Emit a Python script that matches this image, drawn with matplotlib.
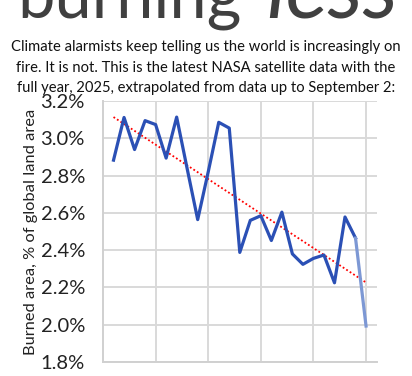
import numpy as np
import matplotlib
matplotlib.use("Agg")
from matplotlib import pyplot as plt
from matplotlib.ticker import FuncFormatter

# burned area, % of global land area (2025 extrapolated)
years = list(range(2001, 2026))
burned = [2.883, 3.112, 2.940, 3.095, 3.074, 2.894, 3.114, 2.837, 2.564, 2.820,
          3.086, 3.055, 2.388, 2.560, 2.585, 2.452, 2.604, 2.380, 2.324, 2.356,
          2.374, 2.225, 2.578, 2.465, 1.993]

title_main = "burning"
title_ital = "less"
subtitle = ["Climate alarmists keep telling us the world is increasingly on",
            "fire. It is not. This is the latest NASA satellite data with the",
            "full year, 2025, extrapolated from data up to September 2:"]
ylab = "Burned area, % of global land area"

plt.rcParams['font.family'] = ['Lato', 'DejaVu Sans']

W, H = 412, 376
fig = plt.figure(figsize=(W / 100, H / 100), dpi=100)
ax = fig.add_axes([0.25, 0.0372, 0.664, 0.694])

x = np.array(years)
y = np.array(burned)

# trend line over all years
k, b = np.polyfit(x, y, 1)
ax.plot(x, k * x + b, color="red", lw=1.3, ls=(0, (1, 1.3)), zorder=3)

ax.plot(x[:-1], y[:-1], color="#2b50b5", lw=2.3, zorder=4)
ax.plot(x[-2:], y[-2:], color="#7d98d4", lw=2.3, zorder=4)

ax.set_xlim(2000, 2026)
ax.set_ylim(1.8, 3.2)
ax.set_xticks([2005, 2010, 2015, 2020, 2025])
ax.set_yticks(np.arange(1.8, 3.21, 0.2))
ax.yaxis.set_major_formatter(FuncFormatter(lambda v, p: "%.1f%%" % v))
ax.tick_params(axis="x", length=0, labelbottom=False)
ax.tick_params(axis="y", length=0, labelsize=14.5, pad=13, labelcolor="#222222")
ax.grid(True, color="#d9d9d9", lw=1.4)
ax.set_axisbelow(True)
for s in ["top", "right"]:
    ax.spines[s].set_visible(False)
for s in ["left", "bottom"]:
    ax.spines[s].set_color("#d0d0d0")
    ax.spines[s].set_linewidth(1.4)
ax.set_ylabel(ylab, fontsize=11.8, color="#222222", labelpad=2)

# title, cut off at top like the original
base = 1 - 17 / H
t1 = fig.text(17 / W, base, title_main, ha="left", va="baseline",
              fontsize=46, color="#404040")
t2 = fig.text(398 / W, base, title_ital, ha="right", va="baseline",
              fontsize=46, color="#404040", style="italic")
r = fig.canvas.get_renderer()
t1.set_fontsize(46 * 224 / t1.get_window_extent(r).width)
t2.set_fontsize(46 * 132 / t2.get_window_extent(r).width)

for i, line in enumerate(subtitle):
    fig.text(0.5, 1 - (47 + 20.5 * i) / H, line, ha="center", va="center",
             fontsize=10.6, color="#111111")

fig.savefig("out.png", dpi=100)
